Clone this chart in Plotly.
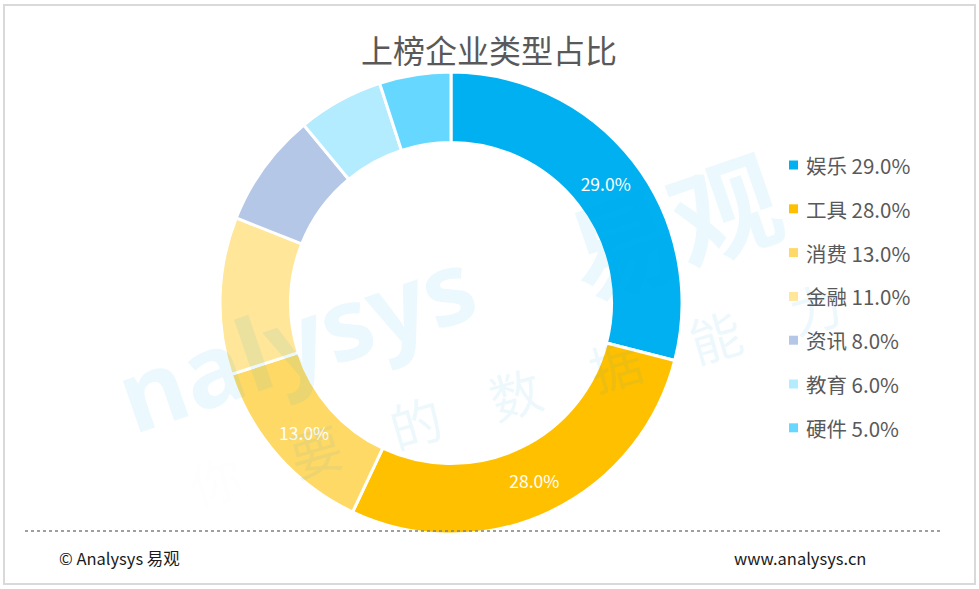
import plotly.graph_objects as go

# ── Colours ───────────────────────────────────────────────────────────────────
C_TEXT   = "#595959"
C_BORDER = "#D9D9D9"
C_DOTS   = "#808080"
C_WM     = "rgba(0,160,230,0.08)"

# ── Data ──────────────────────────────────────────────────────────────────────
categories = ["娱乐", "工具", "消费", "金融", "资讯", "教育", "硬件"]
shares     = [29.0, 28.0, 13.0, 11.0, 8.0, 6.0, 5.0]
colors     = ["#00B0F0", "#FFC000", "#FFD966", "#FFE699", "#B4C7E7", "#B3EBFF", "#66D7FF"]
show_label = [True, True, True, False, False, False, False]

title_text   = "上榜企业类型占比"
footer_left  = "© Analysys 易观"
footer_right = "www.analysys.cn"

W, H = 979, 589
CX, CY, R = 451, 303, 231

fig = go.Figure()

fig.add_trace(go.Pie(
    labels=categories,
    values=shares,
    hole=0.695,
    sort=False,
    direction="clockwise",
    rotation=0,
    marker=dict(colors=colors, line=dict(color="white", width=3)),
    texttemplate=["%{value:.1f}%" if s else "" for s in show_label],
    textposition="inside",
    insidetextorientation="horizontal",
    textfont=dict(color="white", size=17.5, family="Noto Sans CJK SC"),
    domain=dict(x=[(CX - R) / W, (CX + R) / W], y=[1 - (CY + R) / H, 1 - (CY - R) / H]),
    showlegend=False,
    hoverinfo="label+percent",
))

# ── Custom legend (square marker + label) ─────────────────────────────────────
leg_y0, leg_dy = 165, 43.8
for i, (cat, val, col) in enumerate(zip(categories, shares, colors)):
    yc = leg_y0 + i * leg_dy
    fig.add_shape(type="rect", xref="paper", yref="paper",
                  x0=789 / W, x1=798 / W, y0=1 - (yc + 4.5) / H, y1=1 - (yc - 4.5) / H,
                  fillcolor=col, line=dict(width=0))
    fig.add_annotation(text=f"{cat} {val:.1f}%", xref="paper", yref="paper",
                       x=804 / W, y=1 - yc / H, xanchor="left", yanchor="middle",
                       showarrow=False,
                       font=dict(color=C_TEXT, size=20.5, family="Noto Sans CJK SC"))

# ── Watermark ─────────────────────────────────────────────────────────────────
wm = dict(xref="paper", yref="paper", xanchor="center", yanchor="middle", showarrow=False)
fig.add_annotation(text="<b>nalysys</b>", x=295 / W, y=1 - 338 / H, textangle=-19,
                   font=dict(color=C_WM, size=100, family="Noto Sans"), **wm)
fig.add_annotation(text="<b>易观</b>", x=672 / W, y=1 - 222 / H, textangle=-19,
                   font=dict(color=C_WM, size=108, family="Noto Sans CJK SC"), **wm)
fig.add_annotation(text="<span style='color:rgba(255,160,80,0.09)'>你</span>　要　的　数　据　能　力",
                   x=515 / W, y=1 - 392 / H, textangle=-16,
                   font=dict(color="rgba(0,160,230,0.07)", size=52, family="Noto Sans CJK SC"), **wm)

# ── Frame, separator, footer ──────────────────────────────────────────────────
fig.add_shape(type="rect", xref="paper", yref="paper",
              x0=4 / W, x1=975 / W, y0=1 - 584 / H, y1=1 - 5 / H,
              line=dict(color=C_BORDER, width=2))
fig.add_shape(type="line", xref="paper", yref="paper",
              x0=25 / W, x1=943 / W, y0=1 - 531 / H, y1=1 - 531 / H,
              line=dict(color=C_DOTS, width=1.5, dash="dot"))
fig.add_annotation(text=footer_left, xref="paper", yref="paper",
                   x=57 / W, y=1 - 558 / H, xanchor="left", yanchor="middle",
                   showarrow=False,
                   font=dict(color="#1A1A1A", size=16.5, family="Noto Sans CJK SC"))
fig.add_annotation(text=footer_right, xref="paper", yref="paper",
                   x=868 / W, y=1 - 558 / H, xanchor="right", yanchor="middle",
                   showarrow=False,
                   font=dict(color="#1A1A1A", size=16.5, family="Noto Sans CJK SC"))

fig.update_layout(
    title=dict(text=title_text, x=489 / W, xanchor="center", y=1 - 52 / H, yanchor="middle",
               font=dict(color=C_TEXT, size=32, family="Noto Sans CJK SC")),
    width=W, height=H,
    margin=dict(l=0, r=0, t=0, b=0),
    paper_bgcolor="white",
    plot_bgcolor="white",
)

# body has a default 8px margin; drop it so the figure sits at the window origin
fig.write_html("out.html", config={"displayModeBar": False},
               post_script="document.body.style.margin='0';")
